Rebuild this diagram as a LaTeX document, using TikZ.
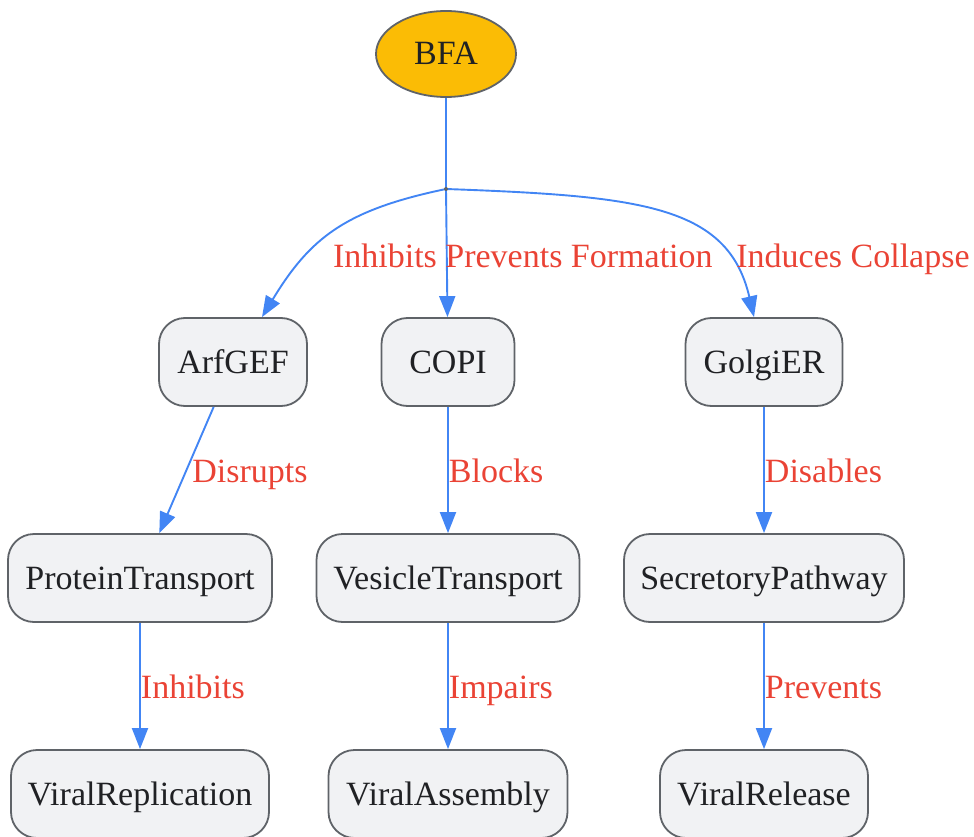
\documentclass[tikz,border=0pt]{standalone}
\usepackage{fontspec}
\setmainfont{Liberation Serif}
\usetikzlibrary{arrows.meta,shapes.geometric}
\definecolor{edgeblue}{HTML}{4285F4}
\definecolor{lblred}{HTML}{EA4335}
\definecolor{bfafill}{HTML}{FBBC05}
\definecolor{boxfill}{HTML}{F1F2F4}
\definecolor{boxline}{HTML}{5F6368}
\definecolor{txtdark}{HTML}{202124}

\begin{document}
\begin{tikzpicture}[x=1pt, y=-1pt,
		box/.style={draw=boxline, fill=boxfill, line width=1.8pt, rounded corners=26pt, minimum height=88pt, inner sep=0pt, text height=23pt, text depth=1pt, text=txtdark, font=\fontsize{34}{40}\selectfont},
		link/.style={draw=edgeblue, line width=1.9pt, -{Triangle[length=21pt, width=16pt]}},
		lbl/.style={text=lblred, font=\fontsize{34}{40}\selectfont, inner sep=0pt, text height=23pt, text depth=1pt}]
			%%%%% START %%%%%
			\useasboundingbox (0, 0) rectangle (974, 837);
			
			\node[ellipse, draw=boxline, fill=bfafill, line width=1.8pt, minimum width=140pt, minimum height=86pt, inner sep=0pt, text height=23pt, text depth=1pt, text=txtdark, font=\fontsize{34}{40}\selectfont] (bfa) at (446, 54) {BFA};
			
			\node[box, minimum width=148pt] (arfgef) at (233, 362) {ArfGEF};
			\node[box, minimum width=133pt] (copi) at (448, 362) {COPI};
			\node[box, minimum width=157pt] (golgi) at (764, 362) {GolgiER};
			
			\node[box, minimum width=264pt] (protein) at (140, 578) {ProteinTransport};
			\node[box, minimum width=263pt] (vesicle) at (448, 578) {VesicleTransport};
			\node[box, minimum width=280pt] (secretory) at (764, 578) {SecretoryPathway};
			
			\node[box, minimum width=258pt] (replication) at (140, 794) {ViralReplication};
			\node[box, minimum width=239pt] (assembly) at (448, 794) {ViralAssembly};
			\node[box, minimum width=208pt] (release) at (764, 794) {ViralRelease};
			
			% split point under BFA
			\coordinate (split) at (446, 189);
			\draw[draw=edgeblue, line width=1.9pt] (bfa) -- (split);
			\draw[link] (split) .. controls (345, 210) and (310, 238) .. (arfgef.north west -| 262, 316);
			\draw[link] (split) -- (copi);
			\draw[link] (split) .. controls (640, 196) and (728, 205) .. (golgi.north west -| 754, 316);
			\fill[boxline] (split) circle (2);
			
			\node[lbl] at (385, 256) {Inhibits};
			\node[lbl] at (579, 256) {Prevents Formation};
			\node[lbl] at (853, 256) {Induces Collapse};
			
			\draw[link] (arfgef) -- node[lbl, midway, anchor=west, xshift=5pt, yshift=-1pt] {Disrupts} (protein);
			\draw[link] (copi) -- node[lbl, midway, anchor=west, yshift=-1pt] {Blocks} (vesicle);
			\draw[link] (golgi) -- node[lbl, midway, anchor=west, yshift=-1pt] {Disables} (secretory);
			
			\draw[link] (protein) -- node[lbl, midway, anchor=west, yshift=-1pt] {Inhibits} (replication);
			\draw[link] (vesicle) -- node[lbl, midway, anchor=west, yshift=-1pt] {Impairs} (assembly);
			\draw[link] (secretory) -- node[lbl, midway, anchor=west, yshift=-1pt] {Prevents} (release);
			%%%%% END %%%%%
\end{tikzpicture}
\end{document}
